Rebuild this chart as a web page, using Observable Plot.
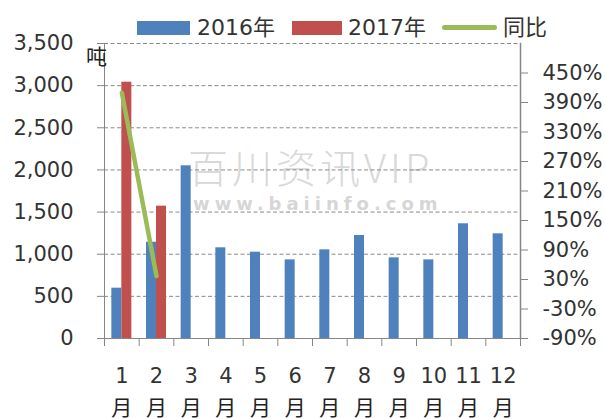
<!DOCTYPE html>
<html><head><meta charset="utf-8">
<script src="https://cdn.jsdelivr.net/npm/d3@7"></script>
<script src="https://cdn.jsdelivr.net/npm/@observablehq/plot@0.6"></script>
<style>
body{margin:0;background:#fff;}
#wrap{position:relative;width:605px;height:419px;overflow:hidden;font-family:"DejaVu Sans","Noto Sans CJK SC",sans-serif;color:#333;}
.abs{position:absolute;white-space:nowrap;}
#chart{position:absolute;left:0;top:0;}
</style></head><body><div id="wrap">
<div class="abs" style="left:188px;top:147px;font-family:'Noto Sans CJK SC',sans-serif;font-size:40px;line-height:38px;letter-spacing:4px;color:#d9d9d9;font-weight:300;">百川资讯VIP</div>
<div class="abs" style="left:193px;top:195px;font-size:18px;line-height:17px;letter-spacing:5px;color:#d6d6d6;font-weight:bold;">www.baiinfo.com</div>
<div id="chart"></div>
<div class="abs" style="left:86px;top:46px;font-size:21px;line-height:22px;color:#222;">吨</div>
<div class="abs" style="left:137px;top:21px;width:53px;height:14px;background:#4F81BD;"></div>
<div class="abs" style="left:197px;top:17px;font-size:22px;line-height:22px;">2016年</div>
<div class="abs" style="left:292px;top:21px;width:50px;height:14px;background:#C0504D;"></div>
<div class="abs" style="left:348px;top:17px;font-size:22px;line-height:22px;">2017年</div>
<div class="abs" style="left:442px;top:25px;width:55px;height:5px;border-radius:3px;background:#9BBB59;"></div>
<div class="abs" style="left:503px;top:17px;font-size:22px;line-height:22px;">同比</div>
</div>
<script>
const months = ["1","2","3","4","5","6","7","8","9","10","11","12"];
const values2016 = [597,1142,2049,1076,1024,933,1052,1222,957,933,1361,1242];
const months2017 = ["1","2"];
const values2017 = [3041,1570];
const yoyMonths = ["1","2"];
const yoyValues = [410,37];
const leftTicks = [0,500,1000,1500,2000,2500,3000,3500];
const rightTicks = [-90,-30,30,90,150,210,270,330,390,450];
const leftDomain = [0,3500];
const rightDomain = [-90,510];

const toLeft = p => (p - rightDomain[0]) / (rightDomain[1] - rightDomain[0]) * (leftDomain[1] - leftDomain[0]) + leftDomain[0];
const fromLeft = v => (v - leftDomain[0]) / (leftDomain[1] - leftDomain[0]) * (rightDomain[1] - rightDomain[0]) + rightDomain[0];

const d2016 = months.map((m,i) => ({month:m, value:values2016[i]}));
const d2017 = months2017.map((m,i) => ({month:m, value:values2017[i]}));
const dyoy = yoyMonths.map((m,i) => ({month:m, value:toLeft(yoyValues[i])}));

const W = 605, H = 419, mL = 104, mR = 85, mT = 43, mB = 81;
const step = (W - mL - mR) / months.length;
const groupW = 20;
const pIn = 1 - groupW / step;
const axisColor = "#868686";

const svg = Plot.plot({
  width: W, height: H,
  marginTop: mT, marginBottom: mB, marginLeft: mL, marginRight: mR,
  style: {fontFamily: "'DejaVu Sans','Noto Sans CJK SC',sans-serif", fontSize: "21px", color: "#333", background: "transparent", overflow: "visible"},
  x: {domain: months, paddingInner: pIn, paddingOuter: pIn / 2, round: false},
  y: {domain: leftDomain},
  marks: [
    Plot.gridY(leftTicks.slice(1), {stroke: "#8a8a8a", strokeOpacity: 1, strokeDasharray: "4,2.5"}),
    Plot.barY(d2016, {x: "month", y: "value", fill: "#4F81BD", insetRight: groupW / 2, insetLeft: 0}),
    Plot.barY(d2017, {x: "month", y: "value", fill: "#C0504D", insetLeft: groupW / 2, insetRight: 0}),
    Plot.lineY(dyoy, {x: "month", y: "value", stroke: "#9BBB59", strokeWidth: 4.5, strokeLinecap: "round"}),
    Plot.frame({anchor: "left", stroke: axisColor}),
    Plot.frame({anchor: "right", stroke: axisColor, strokeWidth: 1.5}),
    Plot.frame({anchor: "bottom", stroke: axisColor}),
    Plot.axisY({anchor: "left", ticks: leftTicks, tickFormat: d3.format(","), tickSize: 7, tickPadding: 24, stroke: axisColor, fill: "#333", label: null}),
    Plot.axisY({anchor: "right", ticks: rightTicks.map(toLeft), tickFormat: v => Math.round(fromLeft(v)) + "%", tickSize: 7, tickPadding: 15, stroke: axisColor, fill: "#333", label: null}),
    Plot.axisX({tickSize: 8, tickFormat: () => "", dx: -step / 2, stroke: axisColor, label: null}),
    Plot.axisX({ticks: [months[months.length - 1]], tickSize: 8, tickFormat: () => "", dx: step / 2, stroke: axisColor, label: null}),
    Plot.axisX({tickSize: 0, tickPadding: 29.5, fill: "#333", label: null}),
    Plot.axisX({tickSize: 0, tickPadding: 62, tickFormat: () => "月", fill: "#222", label: null})
  ]
});
document.getElementById("chart").appendChild(svg);
</script>
</body></html>
